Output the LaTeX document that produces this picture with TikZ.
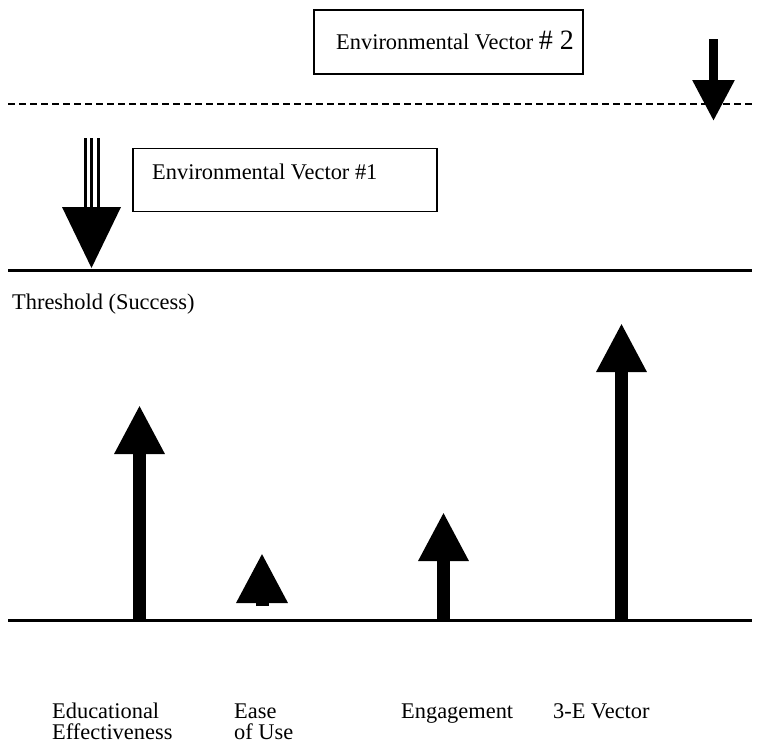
\documentclass[tikz,border=0pt]{standalone}
\usepackage{fontspec}
\setmainfont{Liberation Serif}
\usetikzlibrary{arrows.meta}
\begin{document}
\begin{tikzpicture}[x=1pt,y=-1pt,
  lbl/.style={anchor=base west,inner sep=0pt,font=\fontsize{22.4}{27}\selectfont},
  boxx/.style={draw,line width=1.8pt,inner sep=0pt},
  bigarrow/.style={line width=13.5pt,-{Triangle[width=47pt,length=49pt]}},
  hline/.style={line width=3pt}]
\useasboundingbox (0,0) rectangle (764,747);
% boxes
\node[boxx] (b2) at (448.5,42) [minimum width=269pt,minimum height=64pt] {};
\node[boxx] (b1) at (285,180) [minimum width=304pt,minimum height=63pt] {};
\node[lbl] (t2) at (336,49) {Environmental Vector {\fontsize{28}{28}\selectfont\#\kern0.25em2}};
\node[lbl] (t1) at (152,179) {Environmental Vector \#1};
% lines
\coordinate (dl) at (8,104); \coordinate (dr) at (752,104);
\draw[line width=1.8pt,dash pattern=on 7pt off 4pt] (dl) -- (dr);
\coordinate (thl) at (8,270); \coordinate (thr) at (752,270);
\draw[hline] (thl) -- (thr);
\coordinate (bl) at (8,620); \coordinate (br) at (752,620);
\draw[hline] (bl) -- (br);
\node[lbl] (th) at (12,309) {Threshold (Success)};
% environmental vector 1 arrow
\coordinate (e1a) at (85,138); \coordinate (e1b) at (85,210);
\coordinate (e1c) at (91.5,138); \coordinate (e1d) at (91.5,210);
\coordinate (e1e) at (98.5,138); \coordinate (e1f) at (98.5,210);
\draw[line width=3pt] (e1a) -- (e1b) (e1c) -- (e1d) (e1e) -- (e1f);
\coordinate (h1l) at (62,207); \coordinate (h1r) at (121,207); \coordinate (h1t) at (91.5,268);
\fill (h1l) -- (h1r) -- (h1t) -- cycle;
% environmental vector 2 arrow
\coordinate (e2s) at (713.5,39); \coordinate (e2t) at (713.5,121);
\draw[line width=9pt,-{Triangle[width=40pt,length=41pt]}] (e2s) -- (e2t);
% vectors
\coordinate (a1s) at (139.5,620); \coordinate (a1t) at (139.5,405);
\draw[bigarrow] (a1s) -- (a1t);
\coordinate (a2s) at (262,606); \coordinate (a2t) at (262,553);
\draw[line width=13pt,-{Triangle[width=48pt,length=50pt]}] (a2s) -- (a2t);
\coordinate (a3s) at (443.5,620); \coordinate (a3t) at (443.5,512);
\draw[bigarrow] (a3s) -- (a3t);
\coordinate (a4s) at (621.5,620); \coordinate (a4t) at (621.5,323);
\draw[bigarrow] (a4s) -- (a4t);
% labels
\node[lbl] (l1) at (52,718) {Educational};
\node[lbl] (l1b) at (52,739) {Effectiveness};
\node[lbl] (l2) at (234,718) {Ease};
\node[lbl] (l2b) at (234,739) {of Use};
\node[lbl] (l3) at (401,718) {Engagement};
\node[lbl] (l4) at (553,718) {3-E Vector};
\end{tikzpicture}
\end{document}
